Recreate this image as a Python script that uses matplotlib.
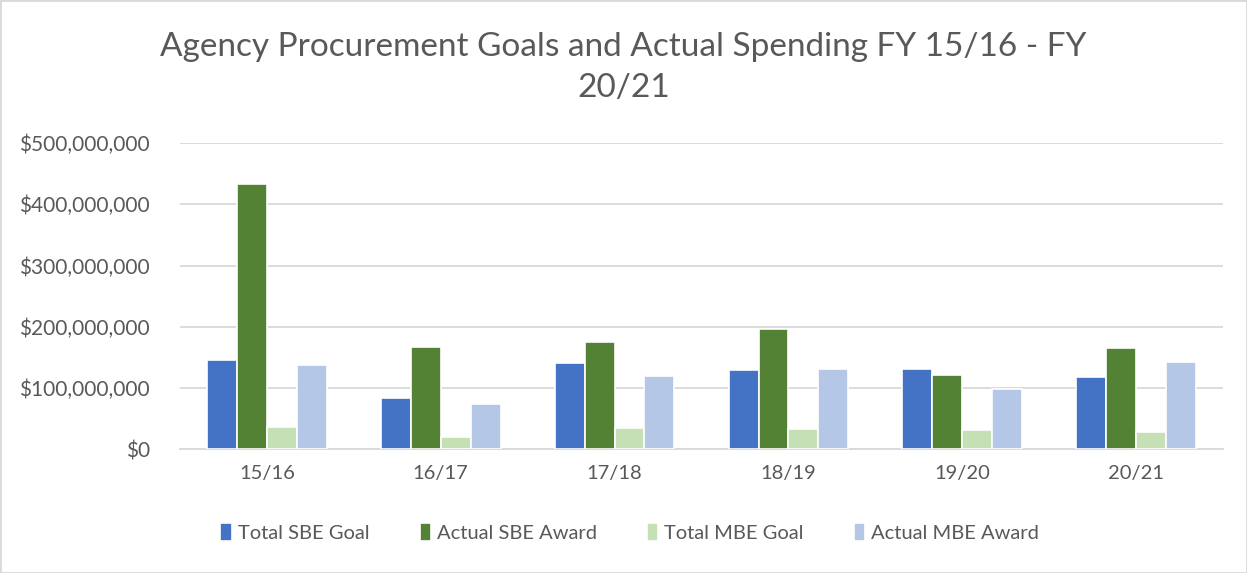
import numpy as np
import matplotlib.pyplot as plt
from matplotlib.ticker import FuncFormatter
from matplotlib.patches import Rectangle

# Datos
years = ['15/16', '16/17', '17/18', '18/19', '19/20', '20/21']
total_sbe_goal = [145, 84, 141.5, 129.5, 131.5, 118]
actual_sbe_award = [433.5, 167.5, 175, 197, 121.5, 165]
total_mbe_goal = [36, 20.5, 35, 32.5, 31.5, 29]
actual_mbe_award = [137.5, 74, 120, 130.5, 98, 142]
series_names = ['Total SBE Goal', 'Actual SBE Award', 'Total MBE Goal', 'Actual MBE Award']

colores = ['#4472C4', '#548235', '#C5E0B4', '#B4C7E7']
color_texto = '#595959'
color_grid = '#D9D9D9'

plt.rcParams['font.family'] = ['Lato', 'DejaVu Sans']

fig = plt.figure(figsize=(12.47, 5.73), dpi=100)
ax = fig.add_axes([0.1443, 0.2159, 0.9808 - 0.1443, 0.7504 - 0.2159])

series = [total_sbe_goal, actual_sbe_award, total_mbe_goal, actual_mbe_award]
x = np.arange(len(years))
ancho = 0.172
for i, (vals, nombre) in enumerate(zip(series, series_names)):
    valores = np.array(vals) * 1e6
    ax.bar(x + (i - 1.5) * ancho, valores, ancho, color=colores[i],
           edgecolor='white', linewidth=1.2, label=nombre, zorder=3)

ax.set_xlim(-0.5, len(years) - 0.5)
ax.set_ylim(0, 500e6)
ax.set_yticks(np.arange(0, 500e6 + 1, 100e6))
ax.yaxis.set_major_formatter(FuncFormatter(lambda v, p: '${:,.0f}'.format(v)))
ax.set_xticks(x)
ax.set_xticklabels(years)

ax.grid(axis='y', color=color_grid, linewidth=1.3, zorder=0)
for s in ['top', 'right', 'left']:
    ax.spines[s].set_visible(False)
ax.spines['bottom'].set_color(color_grid)
ax.spines['bottom'].set_linewidth(1.3)
ax.tick_params(axis='both', length=0, colors=color_texto)
ax.tick_params(axis='y', pad=21.5, labelsize=15)
ax.tick_params(axis='x', pad=11, labelsize=14.5)

fig.text(0.5, 0.882, 'Agency Procurement Goals and Actual Spending FY 15/16 - FY\n20/21',
         ha='center', va='center', fontsize=24, color=color_texto, linespacing=1.45)

leg = fig.legend(loc='center', bbox_to_anchor=(0.505, 0.07), ncol=4, frameon=False,
                 fontsize=14.5, handlelength=0.55, handleheight=1.0, columnspacing=2.5,
                 handletextpad=0.3)
for t in leg.get_texts():
    t.set_color(color_texto)

# Borde del gráfico
fig.patches.append(Rectangle((0, 0), 1, 1, transform=fig.transFigure, fill=False,
                             edgecolor='#D9D9D9', linewidth=2))

plt.savefig('out.png', dpi=100)
plt.close()
